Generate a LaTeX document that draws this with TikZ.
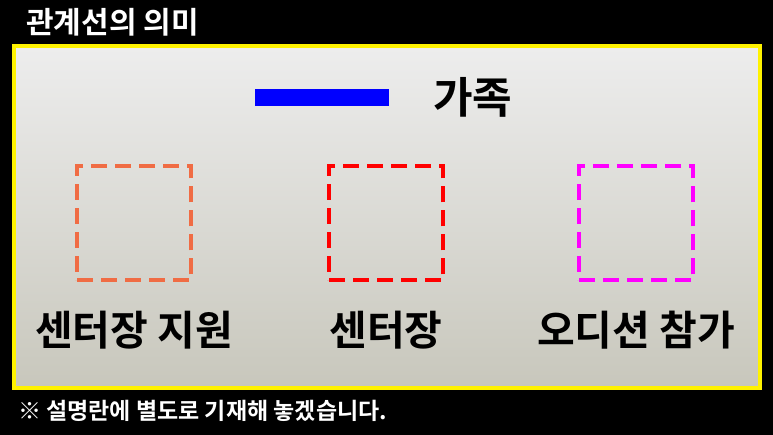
\documentclass[tikz,border=0pt]{standalone}
\usepackage{fontspec}
\usepackage{xcolor}
\usepackage{tikz}
\usetikzlibrary{positioning}
\newfontfamily\kr{Noto Sans CJK KR}[BoldFont={Noto Sans CJK KR Bold}]
\definecolor{relorange}{HTML}{F06C44}
\definecolor{relred}{HTML}{FF0000}
\definecolor{relmagenta}{HTML}{FF00FF}

\begin{document}
\begin{tikzpicture}[x=1pt, y=-1pt,
                        relbox/.style={draw, line width=4pt, dash pattern=on 16pt off 8pt,
                            minimum size=114pt, inner sep=0pt},
                        rellabel/.style={font=\kr\bfseries\fontsize{41}{44}\selectfont, inner sep=0pt},
                        whitetext/.style={text=white, anchor=west, inner sep=0pt}]
                        \useasboundingbox (0,0) rectangle (773,435);
                        \fill[black] (0,0) rectangle (773,435);
                        \draw[yellow, line width=4pt, top color=white!93!black!100, bottom color={rgb,255:red,200;green,199;blue,188}]
                            (14,46) rectangle (760,388);
                        \node[whitetext, font=\kr\bfseries\fontsize{30}{33}\selectfont] (title) at (26,22) {관계선의 의미};
                        \node[fill=blue, minimum width=134pt, minimum height=17pt, inner sep=0pt] (famline) at (322,97.5) {};
                        \node[rellabel, font=\kr\bfseries\fontsize{43}{46}\selectfont, right=44pt of famline] (famlabel) {가족};
                        % legend squares
                        \node[relbox, draw=relorange] (support) at (134,223.5) {};
                        \node[relbox, draw=relred] (head) at (386,223.5) {};
                        \node[relbox, draw=relmagenta] (audition) at (636,223.5) {};
                        \node[rellabel, below=28pt of support] (supportlabel) {센터장 지원};
                        \node[rellabel, below=28pt of head] (headlabel) {센터장};
                        \node[rellabel, below=28pt of audition] (auditionlabel) {오디션 참가};
                        \node[whitetext, font=\kr\bfseries\fontsize{23}{26}\selectfont] (note) at (18,411) {※ 설명란에 별도로 기재해 놓겠습니다.};
                    \end{tikzpicture}
\end{document}
